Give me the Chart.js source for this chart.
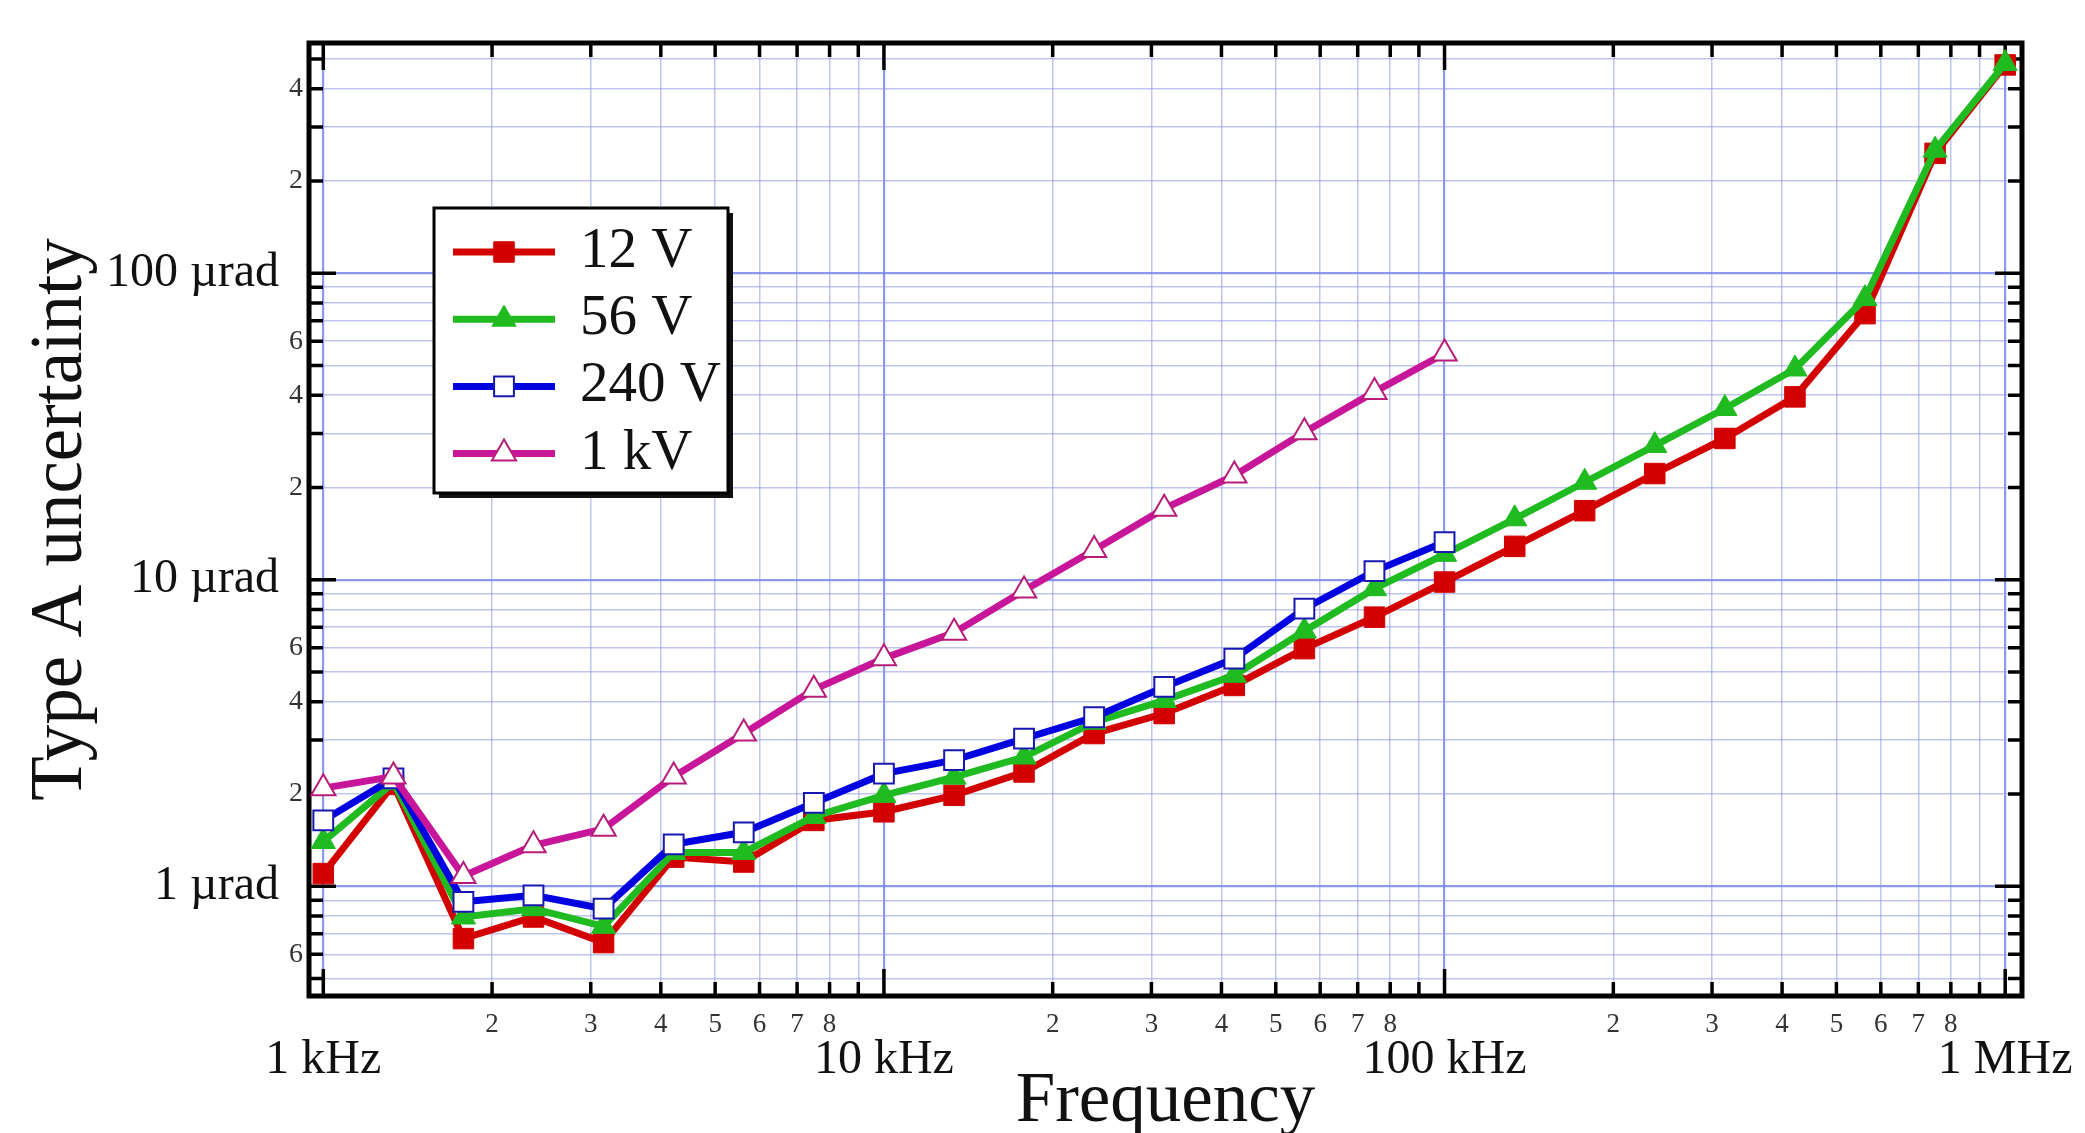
<!DOCTYPE html>
<html>
<head>
<meta charset="utf-8">
<script src="https://cdn.jsdelivr.net/npm/chart.js"></script>
<style>
html,body{margin:0;padding:0;background:#fff;overflow:hidden}
canvas{display:block}
</style>
</head>
<body>
<canvas id="c" width="2085" height="1133" style="width:2085px;height:1133px"></canvas>
<script>
// ---------- data ----------
const frequenciesKHz = [1, 1.334, 1.778, 2.371, 3.162, 4.217, 5.623, 7.499, 10, 13.34, 17.78, 23.71, 31.62, 42.17, 56.23, 74.99, 100, 133.4, 177.8, 237.1, 316.2, 421.7, 562.3, 749.9, 1000];
const seriesLabels = ['12 V', '56 V', '240 V', '1 kV'];
const values12V  = [1.10, 2.15, 0.675, 0.794, 0.655, 1.245, 1.20, 1.64, 1.75, 1.98, 2.36, 3.15, 3.66, 4.52, 5.96, 7.55, 9.83, 12.85, 16.8, 22.2, 28.9, 39.5, 73.8, 246, 478];
const values56V  = [1.40, 2.18, 0.794, 0.845, 0.74, 1.29, 1.29, 1.69, 1.98, 2.27, 2.64, 3.43, 4.04, 4.88, 6.8, 9.35, 12.1, 15.8, 20.8, 27.4, 36.2, 48.7, 82.6, 252, 483];
const values240V = [1.64, 2.25, 0.89, 0.934, 0.845, 1.37, 1.50, 1.87, 2.33, 2.58, 3.03, 3.56, 4.47, 5.53, 8.05, 10.67, 13.27];
const values1kV  = [2.09, 2.28, 1.08, 1.36, 1.54, 2.28, 3.15, 4.38, 5.54, 6.72, 9.23, 12.5, 17.06, 21.9, 30.3, 41.0, 54.7];

const xMajorValues = [1, 10, 100, 1000];
const xMajorLabels = ['1 kHz', '10 kHz', '100 kHz', '1 MHz'];
const xMinorLabelDigits = [2, 3, 4, 5, 6, 7, 8];
const yMajorValues = [1, 10, 100];
const yMajorLabels = ['1 µrad', '10 µrad', '100 µrad'];
const yMinorLabelDigits = [2, 4, 6];
const gridDigits = [1, 2, 3, 4, 5, 6, 7, 8, 9];
const xRange = [0.943, 1071.5];
const yRange = [0.4386, 563.6];

// ---------- helpers ----------
const FONT = "'Liberation Serif', 'DejaVu Serif', serif";
function leadDigit(v) {
  const e = Math.floor(Math.log10(v) + 1e-9);
  return Math.round(v / Math.pow(10, e));
}
function decadeTicks(range) {
  const out = [];
  const e0 = Math.floor(Math.log10(range[0]));
  const e1 = Math.ceil(Math.log10(range[1]));
  for (let e = e0; e <= e1; e++) {
    gridDigits.forEach(d => {
      const v = Number((d * Math.pow(10, e)).toPrecision(6));
      if (v >= range[0] && v <= range[1]) out.push({value: v});
    });
  }
  return out;
}
const isMajor = v => leadDigit(v) === 1;
const pts = vals => vals.map((v, i) => ({x: frequenciesKHz[i], y: v}));

// ---------- plugins ----------
const framePlugin = {
  id: 'frameTicks',
  beforeDatasetsDraw(chart) {
    const {ctx, chartArea: a, scales: {x, y}} = chart;
    ctx.save();
    ctx.strokeStyle = '#000';
    ctx.lineWidth = 3.5;
    x.ticks.forEach(t => {
      const px = x.getPixelForValue(t.value);
      const len = isMajor(t.value) ? 27 : 14;
      ctx.beginPath();
      ctx.moveTo(px, a.bottom); ctx.lineTo(px, a.bottom - len);
      ctx.moveTo(px, a.top); ctx.lineTo(px, a.top + len);
      ctx.stroke();
    });
    y.ticks.forEach(t => {
      const py = y.getPixelForValue(t.value);
      const len = isMajor(t.value) ? 27 : 14;
      ctx.beginPath();
      ctx.moveTo(a.left, py); ctx.lineTo(a.left + len, py);
      ctx.moveTo(a.right, py); ctx.lineTo(a.right - len, py);
      ctx.stroke();
    });
    ctx.lineWidth = 5;
    ctx.strokeRect(a.left, a.top, a.right - a.left, a.bottom - a.top);
    ctx.restore();
  }
};

function drawMarker(ctx, style, x, y, r, fill, stroke, bw) {
  ctx.beginPath();
  if (style === 'rect') {
    const s = r * Math.SQRT1_2;
    ctx.rect(x - s, y - s, 2 * s, 2 * s);
  } else {
    let rad = 0;
    ctx.moveTo(x + Math.sin(rad) * r, y - Math.cos(rad) * r);
    rad += 2 * Math.PI / 3;
    ctx.lineTo(x + Math.sin(rad) * r, y - Math.cos(rad) * r);
    rad += 2 * Math.PI / 3;
    ctx.lineTo(x + Math.sin(rad) * r, y - Math.cos(rad) * r);
    ctx.closePath();
  }
  ctx.fillStyle = fill; ctx.fill();
  if (bw > 0) { ctx.lineWidth = bw; ctx.strokeStyle = stroke; ctx.stroke(); }
}

const legendPlugin = {
  id: 'boxLegend',
  afterDraw(chart) {
    const ctx = chart.ctx;
    const bx = 434, by = 208, bw = 294, bh = 285;
    ctx.save();
    ctx.fillStyle = '#111';
    ctx.fillRect(bx + 5, by + 5, bw, bh);
    ctx.fillStyle = '#fff';
    ctx.fillRect(bx, by, bw, bh);
    ctx.strokeStyle = '#000';
    ctx.lineWidth = 3;
    ctx.strokeRect(bx, by, bw, bh);
    chart.data.datasets.forEach((ds, i) => {
      const cy = 252 + i * 67.2;
      ctx.beginPath();
      ctx.strokeStyle = ds.borderColor;
      ctx.lineWidth = ds.borderWidth;
      ctx.moveTo(453, cy); ctx.lineTo(555, cy);
      ctx.stroke();
      drawMarker(ctx, ds.pointStyle, 504, cy, ds.pointRadius, ds.pointBackgroundColor, ds.pointBorderColor, ds.pointBorderWidth);
      ctx.fillStyle = '#111';
      ctx.font = '57px ' + FONT;
      ctx.textBaseline = 'middle';
      ctx.textAlign = 'left';
      ctx.fillText(ds.label, 580, cy);
    });
    ctx.restore();
  }
};

// ---------- chart ----------
const RED = '#d20000', GREEN = '#20bb20', BLUE = '#0000e0', MAGENTA = '#c8169a';

new Chart(document.getElementById('c'), {
  type: 'line',
  data: {
    datasets: [
      {label: seriesLabels[0], data: pts(values12V), borderColor: RED, borderWidth: 7,
       pointStyle: 'rect', pointRadius: 14.5, pointBackgroundColor: RED, pointBorderColor: RED, pointBorderWidth: 1, order: 3},
      {label: seriesLabels[1], data: pts(values56V), borderColor: GREEN, borderWidth: 7,
       pointStyle: 'triangle', pointRadius: 14, pointBackgroundColor: GREEN, pointBorderColor: GREEN, pointBorderWidth: 1, order: 2},
      {label: seriesLabels[2], data: pts(values240V), borderColor: BLUE, borderWidth: 7,
       pointStyle: 'rect', pointRadius: 14, pointBackgroundColor: '#fff', pointBorderColor: '#1818b0', pointBorderWidth: 2, order: 1},
      {label: seriesLabels[3], data: pts(values1kV), borderColor: MAGENTA, borderWidth: 7,
       pointStyle: 'triangle', pointRadius: 14, pointBackgroundColor: '#fff', pointBorderColor: '#b81c78', pointBorderWidth: 2, order: 0}
    ]
  },
  options: {
    responsive: false,
    animation: false,
    devicePixelRatio: 1,
    layout: {padding: {top: 43, right: 63, bottom: 0, left: 0}},
    plugins: {legend: {display: false}, tooltip: {enabled: false}},
    elements: {line: {tension: 0}, point: {hoverRadius: 14}},
    scales: {
      x: {
        type: 'logarithmic',
        position: 'bottom',
        min: xRange[0], max: xRange[1],
        afterBuildTicks: s => { s.ticks = decadeTicks(xRange); },
        afterFit: s => { s.height = 137; },
        border: {display: false},
        grid: {
          drawTicks: false,
          color: c => isMajor(c.tick.value) ? 'rgba(120,135,235,0.85)' : 'rgba(150,158,228,0.6)',
          lineWidth: c => isMajor(c.tick.value) ? 2.2 : 1.5
        },
        ticks: {
          autoSkip: false, maxRotation: 0, minRotation: 0, padding: 4,
          color: c => isMajor(c.tick.value) ? '#111' : '#333',
          font: c => isMajor(c.tick.value)
            ? {family: FONT, size: 48, lineHeight: '40px'}
            : {family: FONT, size: 27, lineHeight: '49px'},
          callback: (v) => {
            const mi = xMajorValues.indexOf(v);
            if (mi >= 0) return ['', xMajorLabels[mi]];
            const d = leadDigit(v);
            return xMinorLabelDigits.includes(d) ? String(d) : '';
          }
        },
        title: {display: true, text: 'Frequency', color: '#111',
          font: {family: FONT, size: 71, lineHeight: 0.9}, padding: {top: 0, bottom: -1}}
      },
      y: {
        type: 'logarithmic',
        position: 'left',
        min: yRange[0], max: yRange[1],
        afterBuildTicks: s => { s.ticks = decadeTicks(yRange); },
        afterFit: s => { s.width = 309; },
        border: {display: false},
        grid: {
          drawTicks: false,
          color: c => isMajor(c.tick.value) ? 'rgba(120,135,235,0.85)' : 'rgba(150,158,228,0.6)',
          lineWidth: c => isMajor(c.tick.value) ? 2.2 : 1.5
        },
        ticks: {
          autoSkip: false, padding: 6,
          color: c => isMajor(c.tick.value) ? '#111' : '#333',
          font: c => isMajor(c.tick.value)
            ? {family: FONT, size: 48, lineHeight: 1.1}
            : {family: FONT, size: 28, lineHeight: 1.1},
          callback: (v) => {
            const mi = yMajorValues.indexOf(v);
            if (mi >= 0) return yMajorLabels[mi] + '  ';
            const d = leadDigit(v);
            return yMinorLabelDigits.includes(d) ? String(d) : '';
          }
        },
        title: {display: true, text: 'Type A uncertainty', color: '#111',
          font: {family: FONT, size: 73, lineHeight: 1.2}, padding: {top: 18, bottom: 0}}
      }
    }
  },
  plugins: [framePlugin, legendPlugin]
});
</script>
</body>
</html>
